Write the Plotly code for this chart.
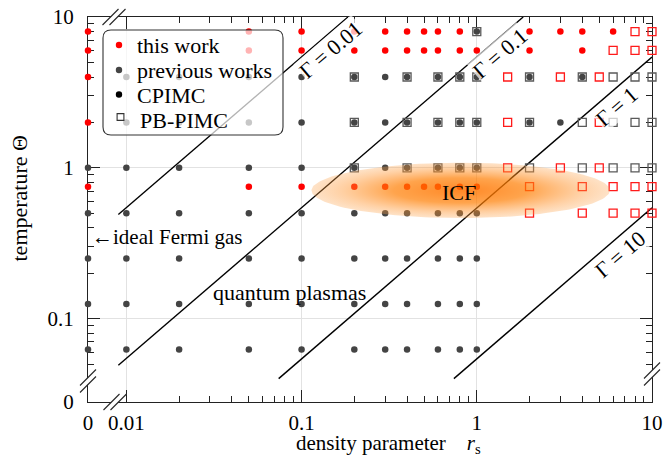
import numpy as np
import plotly.graph_objects as go

# ------------------------------------------------------------------ data
# r_s = 0 and Theta = 0 are drawn at the broken ends of the log axes
RS_ZERO_LOG = -2.219
TH_ZERO_LOG = -1.553

# this work, CPIMC (red dots): (Theta, [r_s ...])
tw_cpimc_rows = [
    (8,    [0, 0.05, 0.1, 0.2, 0.3, 0.4, 0.5, 0.6, 0.8, 2, 3, 4, 6]),
    (6,    [0, 0.05, 0.1, 0.2, 0.3, 0.4, 0.5, 0.6, 0.8, 1, 2, 4]),
    (4,    [0]),
    (2,    [0]),
    (0.75, [0, 0.05, 0.1, 0.2, 0.3, 0.4, 0.5, 0.6, 0.8, 1]),
]
# this work, PB-PIMC (red squares)
tw_pbpimc_rows = [
    (8,    [8, 10]),
    (6,    [6, 8, 10]),
    (4,    [1.5, 3, 5]),
    (2,    [1.5, 5]),
    (1,    [1.5, 3, 5]),
    (0.75, [2, 4, 6, 8, 10]),
    (0.5,  [2, 4, 6, 8, 10]),
]
# previous works, CPIMC (grey dots)
prev_cpimc_rows = [
    (8,      [1]),
    (4,      [0.01, 0.02, 0.05, 0.1, 0.2, 0.3, 0.4, 0.6, 0.8, 1, 2, 4]),
    (2,      [0.01, 0.02, 0.05, 0.1, 0.2, 0.3, 0.4, 0.6, 0.8, 1, 2, 3]),
    (1,      [0, 0.01, 0.02, 0.05, 0.1, 0.2, 0.3, 0.4, 0.6, 0.8, 1]),
    (0.5,    [0, 0.01, 0.02, 0.05, 0.1, 0.2, 0.3, 0.4, 0.6, 0.8, 1]),
    (0.25,   [0, 0.01, 0.02, 0.05, 0.1, 0.2, 0.3, 0.4, 0.6, 0.8, 1]),
    (0.125,  [0, 0.01, 0.02, 0.05, 0.1, 0.2, 0.3, 0.4, 0.6, 0.8, 1]),
    (0.0625, [0, 0.01, 0.02, 0.05, 0.1, 0.2, 0.3, 0.4, 0.6, 0.8, 1]),
]
# previous works, PB-PIMC (grey squares)
prev_pbpimc_rows = [
    (8, [1]),
    (4, [0.2, 0.4, 0.6, 0.8, 1, 2, 4, 6, 8, 10]),
    (2, [0.2, 0.4, 0.6, 0.8, 1, 2, 4, 6, 8, 10]),
    (1, [0.2, 0.4, 0.6, 0.8, 1, 2, 4, 6, 8, 10]),
]

# coupling-parameter lines (end points)
gamma_values = [0.01, 0.1, 1, 10]
gamma_rs_ends = [[0.009, 0.184], [0.009, 1.84], [0.074, 10], [0.74, 10]]
gamma_theta_ends = [[0.49, 10], [0.049, 10], [0.040, 5.43], [0.040, 0.543]]
gamma_label_rs = [0.1466, 1.353, 6.31, 6.57]
gamma_label_theta = [6.12, 5.75, 2.55, 0.267]

# ICF region (bounds of the shaded ellipse)
icf_rs = [0.114, 5.75]
icf_theta = [0.464, 1.08]

x_tick_text = ["0", "0.01", "0.1", "1", "10"]
x_tick_vals = [10 ** RS_ZERO_LOG, 0.01, 0.1, 1, 10]
y_tick_text = ["0", "0.1", "1", "10"]
y_tick_vals = [10 ** TH_ZERO_LOG, 0.1, 1, 10]
x_minor = [0.02, 0.03, 0.04, 0.05, 0.06, 0.07, 0.08, 0.09,
           0.2, 0.3, 0.4, 0.5, 0.6, 0.7, 0.8, 0.9,
           2, 3, 4, 5, 6, 7, 8, 9]
y_minor = [0.05, 0.06, 0.07, 0.08, 0.09,
           0.2, 0.3, 0.4, 0.5, 0.6, 0.7, 0.8, 0.9,
           2, 3, 4, 5, 6, 7, 8, 9]

# ------------------------------------------------------------------ helpers
FONT = "Liberation Serif, Times New Roman, serif"
RED = "#ff0000"
GREY = "#444444"
SQGREY = "#5a5a5a"


def expand(rows):
    xs, ys = [], []
    for th, rss in rows:
        for r in rss:
            xs.append(10 ** RS_ZERO_LOG if r == 0 else r)
            ys.append(th)
    return xs, ys


PL, PR, PT, PB = 88, 652, 17, 402


def px(x):
    return (x - PL) / (PR - PL)


def py(y):
    return (PB - y) / (PB - PT)


fig = go.Figure()

# Gamma lines
for rs, th in zip(gamma_rs_ends, gamma_theta_ends):
    fig.add_trace(go.Scatter(x=rs, y=th, mode="lines",
                             line=dict(color="black", width=1.4),
                             hoverinfo="skip", cliponaxis=False))

# squares
for rows, col in [(prev_pbpimc_rows, SQGREY), (tw_pbpimc_rows, "#ff1a1a")]:
    xs, ys = expand(rows)
    fig.add_trace(go.Scatter(x=xs, y=ys, mode="markers", cliponaxis=False,
                             marker=dict(symbol="square-open", size=8,
                                         color=col, line=dict(width=1.3, color=col))))
# dots
for rows, col in [(prev_cpimc_rows, GREY), (tw_cpimc_rows, RED)]:
    xs, ys = expand(rows)
    fig.add_trace(go.Scatter(x=xs, y=ys, mode="markers", cliponaxis=False,
                             marker=dict(symbol="circle", size=6.5, color=col,
                                         line=dict(width=0))))

# ICF ellipse
lx = np.log10(icf_rs)
ly = np.log10(icf_theta)
cx, cy = lx.mean(), ly.mean()
ax_, ay_ = (lx[1] - lx[0]) / 2, (ly[1] - ly[0]) / 2
t = np.linspace(0, 2 * np.pi, 181)
fig.add_trace(go.Scatter(
    x=10 ** (cx + ax_ * np.cos(t)), y=10 ** (cy + ay_ * np.sin(t)),
    mode="lines", line=dict(width=0, color="rgba(0,0,0,0)"),
    fill="toself", hoverinfo="skip",
    fillgradient=dict(type="radial", colorscale=[
        [0.0, "rgba(255,115,0,0.85)"],
        [0.45, "rgba(255,125,0,0.70)"],
        [0.8, "rgba(255,145,40,0.42)"],
        [1.0, "rgba(252,165,80,0.32)"],
    ])))

shapes = []
annotations = []


def note(**kw):
    kw.setdefault("xanchor", "center")
    kw.setdefault("yanchor", "middle")
    kw.setdefault("showarrow", False)
    annotations.append(kw)


# legend box
lx0, lx1, ly0, ly1, rr = 103, 283, 30, 135, 8
pts = lambda x, y: f"{px(x):.5f},{py(y):.5f}"
legend_path = (f"M {pts(lx0 + rr, ly0)} L {pts(lx1 - rr, ly0)} Q {pts(lx1, ly0)} {pts(lx1, ly0 + rr)} "
               f"L {pts(lx1, ly1 - rr)} Q {pts(lx1, ly1)} {pts(lx1 - rr, ly1)} "
               f"L {pts(lx0 + rr, ly1)} Q {pts(lx0, ly1)} {pts(lx0, ly1 - rr)} "
               f"L {pts(lx0, ly0 + rr)} Q {pts(lx0, ly0)} {pts(lx0 + rr, ly0)} Z")
shapes.append(dict(type="path", xref="paper", yref="paper", path=legend_path,
                   fillcolor="rgba(255,255,255,0.7)", line=dict(color="#333", width=1.1),
                   layer="above"))

legend_items = [("this work", "dot", RED, 45, 45.5),
                ("previous works", "dot", GREY, 70, 70.5),
                ("CPIMC", "dot", "black", 94.5, 95.5),
                ("PB-PIMC", "sq", "#333", 117, 120.5)]
for label, kind, col, gy, ty in legend_items:
    if kind == "dot":
        r = 3.2
        shapes.append(dict(type="circle", xref="paper", yref="paper",
                           x0=px(119 - r), x1=px(119 + r), y0=py(gy + r), y1=py(gy - r),
                           fillcolor=col, line=dict(width=0), layer="above"))
        tx = 135
    else:
        r = 3.4
        shapes.append(dict(type="rect", xref="paper", yref="paper",
                           x0=px(120.5 - r), x1=px(120.5 + r), y0=py(gy + r), y1=py(gy - r),
                           fillcolor="rgba(0,0,0,0)", line=dict(width=1.1, color=col),
                           layer="above"))
        tx = 138
    note(text=label, xref="paper", yref="paper", x=px(tx), y=py(ty), xanchor="left",
         font=dict(family=FONT, size=22, color="black"))


# axis breaks
def axis_break(cx_, cy_, along):
    h, d = 8, 3.5
    offs = [(-d, 0), (d, 0)] if along == "x" else [(0, -d), (0, d)]
    segs = []
    for ox, oy in offs:
        segs.append(((cx_ + ox - h, cy_ + oy + h), (cx_ + ox + h, cy_ + oy - h)))
    (a1, b1), (a2, b2) = segs
    path = f"M {pts(*a1)} L {pts(*b1)} L {pts(*b2)} L {pts(*a2)} Z"
    shapes.append(dict(type="path", xref="paper", yref="paper", path=path,
                       fillcolor="white", line=dict(width=0), layer="above"))
    for a, b in segs:
        shapes.append(dict(type="line", xref="paper", yref="paper",
                           x0=px(a[0]), y0=py(a[1]), x1=px(b[0]), y1=py(b[1]),
                           line=dict(color="#222", width=1.1), layer="above"))


axis_break(114, PT, "x")
axis_break(115, PB, "x")
axis_break(PL, 381, "y")
axis_break(PR, 374, "y")

# Gamma labels
for g, lr, lt in zip(gamma_values, gamma_label_rs, gamma_label_theta):
    note(text=f"Γ = {g:g}", x=np.log10(lr), y=np.log10(lt), xref="x", yref="y",
         textangle=-40.6, bgcolor="rgba(255,255,255,0.7)", borderpad=0,
         font=dict(family=FONT, size=22, color="black"))

note(text="quantum plasmas", x=np.log10(0.0854), y=np.log10(0.149), xref="x", yref="y",
     font=dict(family=FONT, size=22, color="black"))
note(text="ICF", x=np.log10(0.794), y=np.log10(0.687), xref="x", yref="y",
     font=dict(family=FONT, size=22, color="black"))
note(text="←ideal Fermi gas", x=RS_ZERO_LOG, y=np.log10(0.347), xref="x", yref="y",
     xanchor="left", xshift=2, font=dict(family=FONT, size=21, color="black"))

# axis titles
note(text="density parameter\u2003<i>r</i><sub>s</sub>", xref="paper", yref="paper",
     x=px(388), y=py(444), font=dict(family=FONT, size=21, color="black"))
note(text="temperature Θ", xref="paper", yref="paper", x=px(19), y=py(198.5),
     textangle=-90, font=dict(family=FONT, size=22, color="black"))

fig.update_layout(
    width=663, height=457, margin=dict(l=PL, r=663 - PR, t=PT, b=457 - PB, autoexpand=False),
    paper_bgcolor="white", plot_bgcolor="white", showlegend=False,
    font=dict(family=FONT, size=21, color="black"),
    shapes=shapes, annotations=annotations,
)
axis_common = dict(type="log", ticks="inside", ticklen=12, tickwidth=1.2, tickcolor="#222",
                   showline=True, linecolor="#222", linewidth=1.2, mirror="ticks",
                   showgrid=True, gridcolor="#e2e2e2", gridwidth=1, zeroline=False,
                   automargin=False,
                   layer="below traces", tickfont=dict(family=FONT, size=21, color="black"))
fig.update_xaxes(range=[RS_ZERO_LOG, 1.0], tickvals=x_tick_vals, ticktext=x_tick_text,
                 ticklabelstandoff=2,
                 minor=dict(tickvals=x_minor, ticks="inside", ticklen=6, tickwidth=1,
                            tickcolor="#222", showgrid=False), **axis_common)
fig.update_yaxes(range=[TH_ZERO_LOG, 1.0], tickvals=y_tick_vals, ticktext=y_tick_text,
                 ticklabelstandoff=9,
                 minor=dict(tickvals=y_minor, ticks="inside", ticklen=6, tickwidth=1,
                            tickcolor="#222", showgrid=False), **axis_common)

fig.write_html("out.html")
